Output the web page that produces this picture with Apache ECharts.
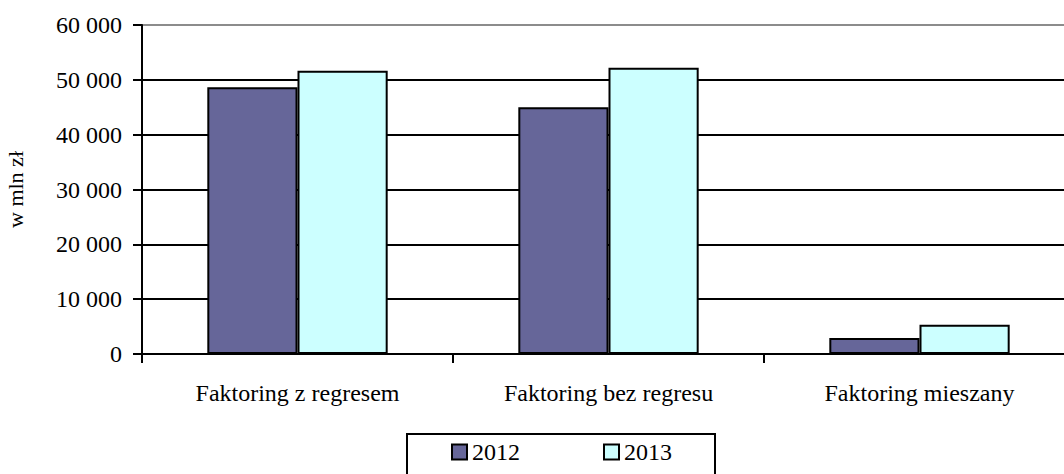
<!DOCTYPE html>
<html>
<head>
<meta charset="utf-8">
<script src="https://cdn.jsdelivr.net/npm/echarts@6/dist/echarts.min.js"></script>
<style>
  html, body { margin: 0; padding: 0; background: #fff; }
  #chart { width: 1064px; height: 474px; }
</style>
</head>
<body>
<div id="chart"></div>
<script>
var categories = ['Faktoring z regresem', 'Faktoring bez regresu', 'Faktoring mieszany'];
var years = ['2012', '2013'];
var values2012 = [48650, 44990, 2920];
var values2013 = [51670, 52220, 5350];
var yTicks = [0, 10000, 20000, 30000, 40000, 50000, 60000];

var font = '"Liberation Serif", "Times New Roman", serif';

function fmt(v) {
  return String(v).replace(/\B(?=(\d{3})+(?!\d))/g, ' ');
}

var chart = echarts.init(document.getElementById('chart'), null, { renderer: 'svg' });
chart.setOption({
  animation: false,
  textStyle: { fontFamily: font, color: '#000' },
  grid: { left: 142, top: 25, width: 933, height: 329, outerBoundsMode: 'none', containLabel: false },
  legend: {
    data: years,
    left: 407,
    top: 434,
    padding: [6, 43, 38, 44],
    itemGap: 83,
    itemWidth: 15,
    itemHeight: 15,
    icon: 'rect',
    borderColor: '#000',
    borderWidth: 2,
    textStyle: { fontFamily: font, fontSize: 24, color: '#000' }
  },
  xAxis: {
    type: 'category',
    data: categories,
    axisLine: { lineStyle: { color: '#000', width: 2 } },
    axisTick: { show: true, length: 9, lineStyle: { color: '#000', width: 2 } },
    axisLabel: { fontFamily: font, fontSize: 24, color: '#000', margin: 27 }
  },
  yAxis: {
    type: 'value',
    min: yTicks[0],
    max: yTicks[yTicks.length - 1],
    interval: 10000,
    name: 'w mln zł',
    nameLocation: 'middle',
    nameGap: 116,
    nameRotate: 90,
    nameTextStyle: { fontFamily: font, fontSize: 22, color: '#000' },
    axisLine: { show: true, lineStyle: { color: '#000', width: 2 } },
    axisTick: { show: true, length: 9, lineStyle: { color: '#000', width: 2 } },
    axisLabel: { fontFamily: font, fontSize: 24, color: '#000', margin: 20, formatter: fmt },
    splitLine: { show: true, lineStyle: { color: ['#000', '#000', '#000', '#000', '#000', '#000', '#8c8c8c'], width: 2 } }
  },
  series: [
    {
      name: years[0],
      type: 'bar',
      data: values2012,
      barGap: '0%',
      barCategoryGap: '42%',
      itemStyle: { color: '#666699', borderColor: '#000', borderWidth: 2 }
    },
    {
      name: years[1],
      type: 'bar',
      data: values2013,
      itemStyle: { color: '#ccffff', borderColor: '#000', borderWidth: 2 }
    }
  ]
});
</script>
</body>
</html>
